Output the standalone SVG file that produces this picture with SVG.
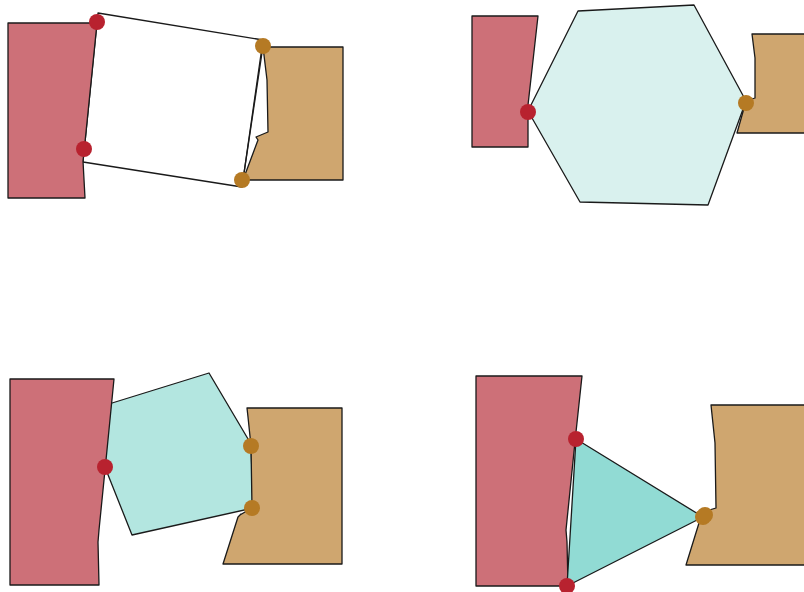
<svg xmlns="http://www.w3.org/2000/svg" width="804" height="592" viewBox="0 0 804 592">
<style>
.s{stroke:#1a1a1a;stroke-width:1.3;stroke-linejoin:round}
.red{fill:#cd7078}
.org{fill:#cfa66f}
.rd{fill:#b8222f}
.od{fill:#b57a24}
</style>
<rect width="804" height="592" fill="#ffffff"/>
<g id="panel1">
<polygon id="body1" class="s" fill="#ffffff" points="98,13 263,40 242,187 83,162"/>
<polygon id="wallL1" class="s red" points="8,23 97,23 84,152 83,161 85,198 8,198"/>
<polygon id="wallR1" class="s org" points="263,47 343,47 343,180 243,180 258,140 256,137 268,132 267,80"/>
<line class="s" x1="263" y1="46" x2="243" y2="180"/>
<circle class="rd" cx="97" cy="22" r="8"/>
<circle class="rd" cx="84" cy="149" r="8"/>
<circle class="od" cx="263" cy="46" r="8"/>
<circle class="od" cx="242" cy="180" r="8"/>
</g>
<g id="panel2">
<polygon id="hex" class="s" fill="#d9f1ee" points="578,11 694,5 746,101 708,205 580,202 528,111"/>
<polygon id="wallL2" class="s red" points="472,16 538,16 528,105 528,120 528,147 472,147"/>
<polygon id="wallR2" class="s org" points="752,34 805,34 805,133 737,133 746,101 755,98 755,58"/>
<circle class="rd" cx="528" cy="112" r="8"/>
<circle class="od" cx="746" cy="103" r="8"/>
</g>
<g id="panel3">
<polygon id="pent" class="s" fill="#b3e6e0" points="83,412 209,373 251,444 253,508 132,535"/>
<polygon id="wallL3" class="s red" points="10,379 114,379 106,460 99,530 98,542 99,585 10,585"/>
<polygon id="wallR3" class="s org" points="247,408 342,408 342,564 223,564 238,517 241,514 240,515 245,512 252,508 251,446 248,417"/>
<circle class="rd" cx="105" cy="467" r="8"/>
<circle class="od" cx="251" cy="446" r="8"/>
<circle class="od" cx="252" cy="508" r="8"/>
</g>
<g id="panel4">
<polygon id="wallL4" class="s red" points="476,376 582,376 576,432 566,530 567,542 568,586 476,586"/>
<polygon id="tri" class="s" fill="#91dbd4" points="576,439 703,517 567,586"/>
<polygon id="wallR4" class="s org" points="711,405 805,405 805,565 686,565 699,523 703,512 716,508 715,443"/>
<circle class="rd" cx="576" cy="439" r="8"/>
<circle class="rd" cx="567" cy="586" r="8"/>
<circle class="od" cx="703" cy="517" r="8"/>
<circle class="od" cx="705" cy="515" r="8"/>
</g>
</svg>
